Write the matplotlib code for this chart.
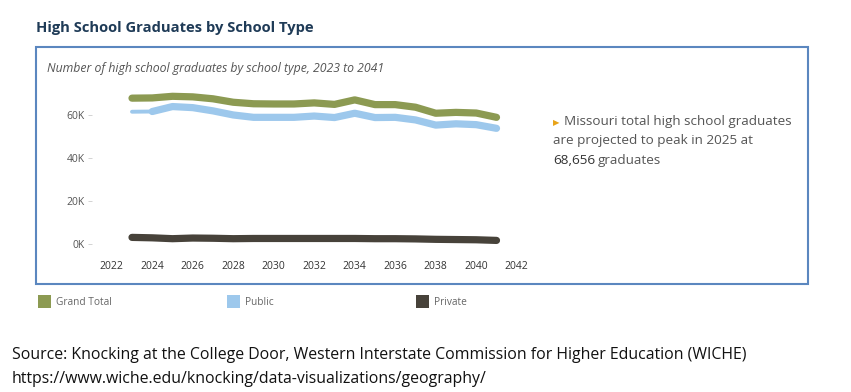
import matplotlib
matplotlib.use("Agg")
import matplotlib.pyplot as plt
from matplotlib.patches import Rectangle
from matplotlib.ticker import FuncFormatter

# values (graduates)
years = list(range(2023, 2042))
grand_total = [67800, 67900, 68656, 68400, 67500, 65900, 65200, 65100, 65100, 65600,
               64900, 67000, 64800, 64800, 63600, 60800, 61200, 60900, 58900]
public = [61500, 61600, 63900, 63400, 61900, 60000, 58900, 58900, 58900, 59500,
          58800, 60800, 58800, 58900, 57700, 55300, 55900, 55500, 53800]
private = [3200, 3000, 2600, 2900, 2800, 2600, 2700, 2700, 2700, 2700,
           2700, 2700, 2600, 2600, 2500, 2300, 2200, 2100, 1800]

series_names = ["Grand Total", "Public", "Private"]
series_colors = ["#8c9a52", "#9dc8ec", "#47423a"]
x_ticks = list(range(2022, 2043, 2))
y_ticks = [0, 20000, 40000, 60000]

plt.rcParams['font.family'] = ['Open Sans', 'DejaVu Sans']

W, H = 851, 392
fig = plt.figure(figsize=(W / 100, H / 100), dpi=100)

def fx(px):
    return px / W

def fy(py):
    return 1 - py / H

# title and framed box
fig.text(fx(36), fy(32), "High School Graduates by School Type", fontsize=10.6,
         fontweight='bold', color='#1f3b57', va='baseline')
fig.add_artist(Rectangle((fx(36), fy(284)), fx(808) - fx(36), fy(47) - fy(284),
                         transform=fig.transFigure, fill=False,
                         edgecolor='#5b87bf', linewidth=1.5))
fig.text(fx(47), fy(72), "Number of high school graduates by school type, 2023 to 2041",
         fontsize=8.8, style='italic', color='#555555', va='baseline')

# axes placed so that 2022..2042 and 0K..60K fall where they are in the reference
ax = fig.add_axes([fx(91.5), fy(248.6), fx(528.9) - fx(91.5), fy(89.1) - fy(248.6)])
ax.set_xlim(2021.0, 2042.6)
ax.set_ylim(-2000, 72000)

data = [grand_total, public, private]
for name, vals, col in zip(series_names, data, series_colors):
    if name == "Public":
        # first segment is drawn thin in the original
        ax.plot(years[:2], vals[:2], color=col, linewidth=2.8, solid_capstyle='round')
        ax.plot(years[1:], vals[1:], color=col, linewidth=5.2, solid_capstyle='round',
                solid_joinstyle='round')
    else:
        ax.plot(years, vals, color=col, linewidth=5.2, solid_capstyle='round',
                solid_joinstyle='round')

for s in ax.spines.values():
    s.set_visible(False)
ax.set_xticks(x_ticks)
ax.set_yticks(y_ticks)
ax.yaxis.set_major_formatter(FuncFormatter(lambda v, p: "%dK" % (v / 1000)))
ax.tick_params(axis='y', length=3, width=0.6, color='#cccccc', pad=2,
               labelsize=7.5, labelcolor='#555555')
ax.tick_params(axis='x', length=0, pad=9, labelsize=7.5, labelcolor='#333333')

# annotation on the right
fig.text(fx(553), fy(125), "\u25B6", fontsize=6, color='#e8a317', va='baseline')
fig.text(fx(564), fy(125), "Missouri total high school graduates", fontsize=9.7,
         color='#555555', va='baseline')
fig.text(fx(553), fy(144), "are projected to peak in 2025 at", fontsize=9.7,
         color='#555555', va='baseline')
t = fig.text(fx(553), fy(164), "68,656", fontsize=9.7, color='#333333', va='baseline')
fig.canvas.draw()
bb = t.get_window_extent()
fig.text(bb.x1 / W + fx(3), fy(164), "graduates", fontsize=9.7, color='#555555',
         va='baseline')

# legend below the box
legend_x = [38, 227, 416]
for name, col, lx in zip(series_names, series_colors, legend_x):
    fig.add_artist(Rectangle((fx(lx), fy(307.5)), fx(12.5), fy(295) - fy(307.5),
                             transform=fig.transFigure, facecolor=col, edgecolor='none'))
    fig.text(fx(lx + 18), fy(305), name, fontsize=7.3, color='#666666', va='baseline')

# source
fig.text(fx(12), fy(359), "Source: Knocking at the College Door, Western Interstate "
         "Commission for Higher Education (WICHE)", fontsize=11.4, color='#111111',
         va='baseline')
fig.text(fx(12), fy(383), "https://www.wiche.edu/knocking/data-visualizations/geography/",
         fontsize=11.4, color='#111111', va='baseline')

fig.savefig("out.png", dpi=100)
